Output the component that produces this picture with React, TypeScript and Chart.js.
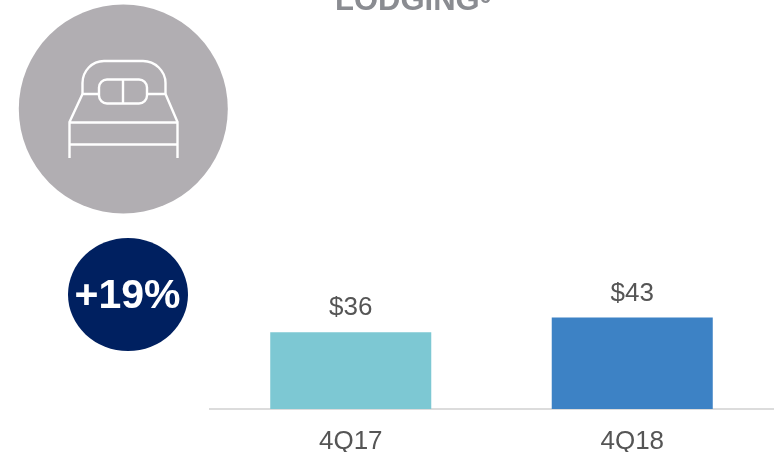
import React, { useEffect, useRef } from "react";
import { Chart, registerables } from "chart.js";

Chart.register(...registerables);

const categories = ["4Q17", "4Q18"];
const values = [36, 43];
const valueLabels = ["$36", "$43"];
const barColors = ["#7dc8d3", "#3d82c5"];
const FONT = "'Liberation Sans', Arial, sans-serif";

const valueLabelPlugin = {
  id: "valueLabels",
  afterDatasetsDraw(chart: any) {
    const { ctx } = chart;
    const meta = chart.getDatasetMeta(0);
    ctx.save();
    ctx.font = `26px ${FONT}`;
    ctx.fillStyle = "#555555";
    ctx.textAlign = "center";
    ctx.textBaseline = "bottom";
    meta.data.forEach((bar: any, i: number) => {
      ctx.fillText(valueLabels[i], bar.x, bar.y - 11);
    });
    ctx.restore();
  },
};

export default function App() {
  const ref = useRef<HTMLCanvasElement>(null);
  useEffect(() => {
    document.body.style.margin = "0";
    const chart = new Chart(ref.current!, {
      type: "bar",
      data: {
        labels: categories,
        datasets: [{ data: values, backgroundColor: barColors, categoryPercentage: 1, barPercentage: 0.572 }],
      },
      plugins: [valueLabelPlugin],
      options: {
        animation: false,
        responsive: false,
        layout: { padding: { left: 210, right: 4, top: 196, bottom: 0 } },
        plugins: { legend: { display: false }, tooltip: { enabled: false }, title: { display: false } },
        scales: {
          x: {
            afterFit: (scale: any) => { scale.height = 43; },
            grid: { display: false, drawTicks: false },
            border: { display: true, color: "#dcdcdc", width: 2 },
            ticks: { color: "#555555", font: { family: FONT, size: 26 }, padding: 17 },
          },
          y: { display: false, min: 0, max: 100 },
        },
      },
    });
    return () => chart.destroy();
  }, []);

  return (
    <div style={{ position: "relative", width: 777, height: 452, overflow: "hidden", background: "#fff", fontFamily: FONT }}>
      <canvas ref={ref} width={777} height={452} style={{ position: "absolute", left: 0, top: 0 }} />
      <div style={{ position: "absolute", left: 335, top: -15, fontSize: 31, lineHeight: "30px", fontWeight: 700, color: "#8a8c91", whiteSpace: "nowrap" }}>
        LODGING<sup style={{ fontSize: 20, lineHeight: 0, verticalAlign: "7px" }}>6</sup>
      </div>
      <svg width={240} height={220} style={{ position: "absolute", left: 0, top: 0 }} fill="none">
        <circle cx={123.3} cy={109} r={104.5} fill="#b1aeb2" />
        <g stroke="#fff" strokeWidth={2.4}>
          <path d="M82.5 94 V83 C82.5 71 92 61 104 61 H143 C155 61 165.5 71 165.5 83 V94" />
          <rect x={99} y={79.5} width={48} height={24} rx={8} />
          <path d="M123 79.5 V103.5 M82.5 94 H99 M147 94 H165.5 M82.5 94 L69.5 122 V158 M165.5 94 L177.5 122 V158 M69.5 122.5 H177.5 M69.5 144.5 H177.5" />
        </g>
      </svg>
      <div style={{ position: "absolute", left: 67.5, top: 237.5, width: 120, height: 113, borderRadius: "50%", background: "#002060", color: "#fff", fontSize: 41, fontWeight: 700, lineHeight: "113px", textAlign: "center", whiteSpace: "nowrap" }}>
        +19%
      </div>
    </div>
  );
}
